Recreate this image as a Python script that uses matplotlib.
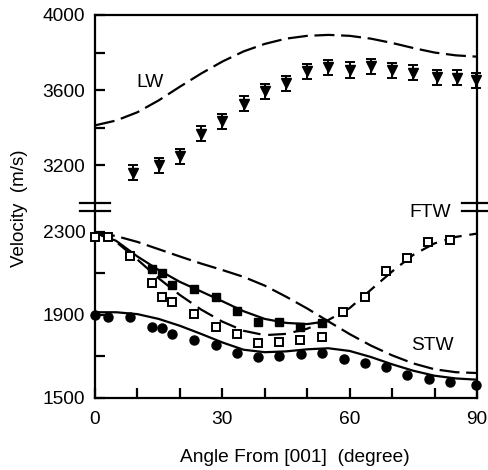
import matplotlib
matplotlib.use("Agg")
import matplotlib.pyplot as plt
from matplotlib.lines import Line2D

plt.rcParams['font.family'] = ['Liberation Sans', 'DejaVu Sans']

# measured LW velocities (top panel)
lw_angle = [9, 15, 20, 25, 30, 35, 40, 45, 50, 55, 60, 65, 70, 75, 80.5, 85.4, 89.8]
lw_vel = [3159, 3200, 3248, 3367, 3433, 3526, 3594, 3636, 3699, 3722,
          3707, 3726, 3705, 3692, 3668, 3667, 3652]
lw_err = [40] * len(lw_angle)

# measured transverse waves (bottom panel)
open_angle = [0, 3.1, 8.2, 13.4, 15.7, 18.2, 23.3, 28.4, 33.4, 38.3, 43.4, 48.3,
              53.4, 58.5, 63.5, 68.5, 73.6, 78.5, 83.6]
open_vel = [2273, 2273, 2183, 2051, 1985, 1962, 1902, 1842, 1806, 1762, 1770, 1780,
            1791, 1912, 1987, 2112, 2172, 2252, 2260]
fill_sq_angle = [13.4, 15.7, 18.2, 23.3, 28.4, 33.4, 38.3, 43.4, 48.3, 53.4]
fill_sq_vel = [2120, 2100, 2043, 2022, 1984, 1919, 1866, 1866, 1842, 1861]
circ_angle = [0, 3.1, 8.2, 13.4, 15.7, 18.2, 23.3, 28.4, 33.4, 38.5, 43.4, 48.5,
              53.4, 58.7, 63.6, 68.5, 73.6, 78.7, 83.6, 89.8]
circ_vel = [1898, 1890, 1887, 1842, 1837, 1807, 1781, 1754, 1714, 1695, 1701, 1711,
            1714, 1685, 1669, 1649, 1609, 1590, 1577, 1561]

# calculated curves
curve_angle = [0, 5, 10, 15, 20, 25, 30, 35, 40, 45, 50, 55, 60, 65, 70, 75, 80, 85, 90]
lw_calc = [3412, 3438, 3482, 3545, 3618, 3688, 3752, 3806, 3846, 3874,
           3889, 3894, 3889, 3874, 3851, 3824, 3800, 3785, 3778]
ftw_long = [2295, 2278, 2250, 2215, 2180, 2146, 2115, 2082, 2040, 1987,
            1930, 1868, 1807, 1752, 1705, 1666, 1638, 1624, 1620]
ftw_solid = [2295, 2255, 2180, 2115, 2058, 2012, 1965, 1917, 1880, 1861, 1855, 1870]
ftw_dash = [2295, 2250, 2165, 2075, 1995, 1925, 1867, 1823, 1802, 1808,
            1833, 1875, 1932, 2020, 2108, 2188, 2243, 2274, 2290]
stw_solid = [1912, 1912, 1903, 1880, 1847, 1808, 1767, 1732, 1720, 1724,
             1734, 1739, 1726, 1697, 1662, 1631, 1607, 1594, 1588]

W, H = 489, 470
fig = plt.figure(figsize=(W / 100, H / 100), dpi=100)
L, R = 95 / W, 477 / W


def fy(py):
    return 1 - py / H


ax_top = fig.add_axes([L, fy(202.7), R - L, fy(15) - fy(202.7)])
ax_bot = fig.add_axes([L, fy(398), R - L, fy(210.7) - fy(398)])

lw = 1.6
fs = 13.8
for ax in (ax_top, ax_bot):
    ax.set_xlim(0, 90)
    for s in ax.spines.values():
        s.set_linewidth(lw)
    ax.tick_params(which='both', direction='in', length=7, width=lw,
                   labelsize=fs, right=False, top=False)

ax_top.set_ylim(3000, 4000)
ax_top.spines['bottom'].set_visible(False)
ax_top.tick_params(bottom=False, labelbottom=False, which='both')
ax_top.set_yticks([3200, 3600, 4000])
ax_top.set_yticks([3400, 3800], minor=True)
ax_top.tick_params(axis='y', pad=7)

ax_bot.set_ylim(1500, 2400)
ax_bot.spines['top'].set_visible(False)
ax_bot.set_yticks([1500, 1900, 2300])
ax_bot.set_yticks([1700, 2100], minor=True)
ax_bot.set_xticks([0, 30, 60, 90])
ax_bot.set_xticks(list(range(0, 91, 10)), minor=True)
ax_bot.tick_params(axis='y', pad=7)
ax_bot.tick_params(axis='x', pad=9)

# top panel
ax_top.plot(curve_angle, lw_calc, color='k', lw=lw, dashes=(9, 3))
ax_top.errorbar(lw_angle, lw_vel, yerr=lw_err, fmt='v', color='k', ms=6.5,
                capsize=3.5, elinewidth=1.4, capthick=1.4, clip_on=False, zorder=3)
ax_top.text(13, 3643, 'LW', fontsize=fs, ha='center', va='center')

# bottom panel
ax_bot.plot(curve_angle, ftw_long, color='k', lw=lw, dashes=(9, 3))
ax_bot.plot(curve_angle[:len(ftw_solid)], ftw_solid, color='k', lw=lw)
ax_bot.plot(curve_angle, ftw_dash, color='k', lw=lw, dashes=(8, 3.5))
ax_bot.plot(curve_angle, stw_solid, color='k', lw=lw)
ax_bot.plot(circ_angle, circ_vel, 'o', color='k', ms=6.5, clip_on=False, zorder=3)
ax_bot.plot(fill_sq_angle, fill_sq_vel, 's', color='k', ms=5.4, zorder=3)
ax_bot.plot(open_angle, open_vel, 's', mfc='white', mec='k', mew=1.4, ms=5.5,
            clip_on=False, zorder=4)
ax_bot.text(79, 2390, 'FTW', fontsize=fs, ha='center', va='center', clip_on=False)
ax_bot.text(79.4, 1754, 'STW', fontsize=fs, ha='center', va='center')

# continuous spines and break marks
for x in (L, R):
    fig.add_artist(Line2D([x, x], [fy(210.7), fy(202.7)], color='k', lw=lw))
    for py in (202.7, 210.7):
        fig.add_artist(Line2D([x - 15 / W, x + 15 / W], [fy(py), fy(py)],
                              color='k', lw=lw))

fig.text(19.5 / W, fy(208), 'Velocity  (m/s)', rotation=90, fontsize=13.5,
         ha='center', va='center')
fig.text(295 / W, fy(457), 'Angle From [001]  (degree)', fontsize=fs,
         ha='center', va='center')

fig.savefig('out.png', dpi=100)
